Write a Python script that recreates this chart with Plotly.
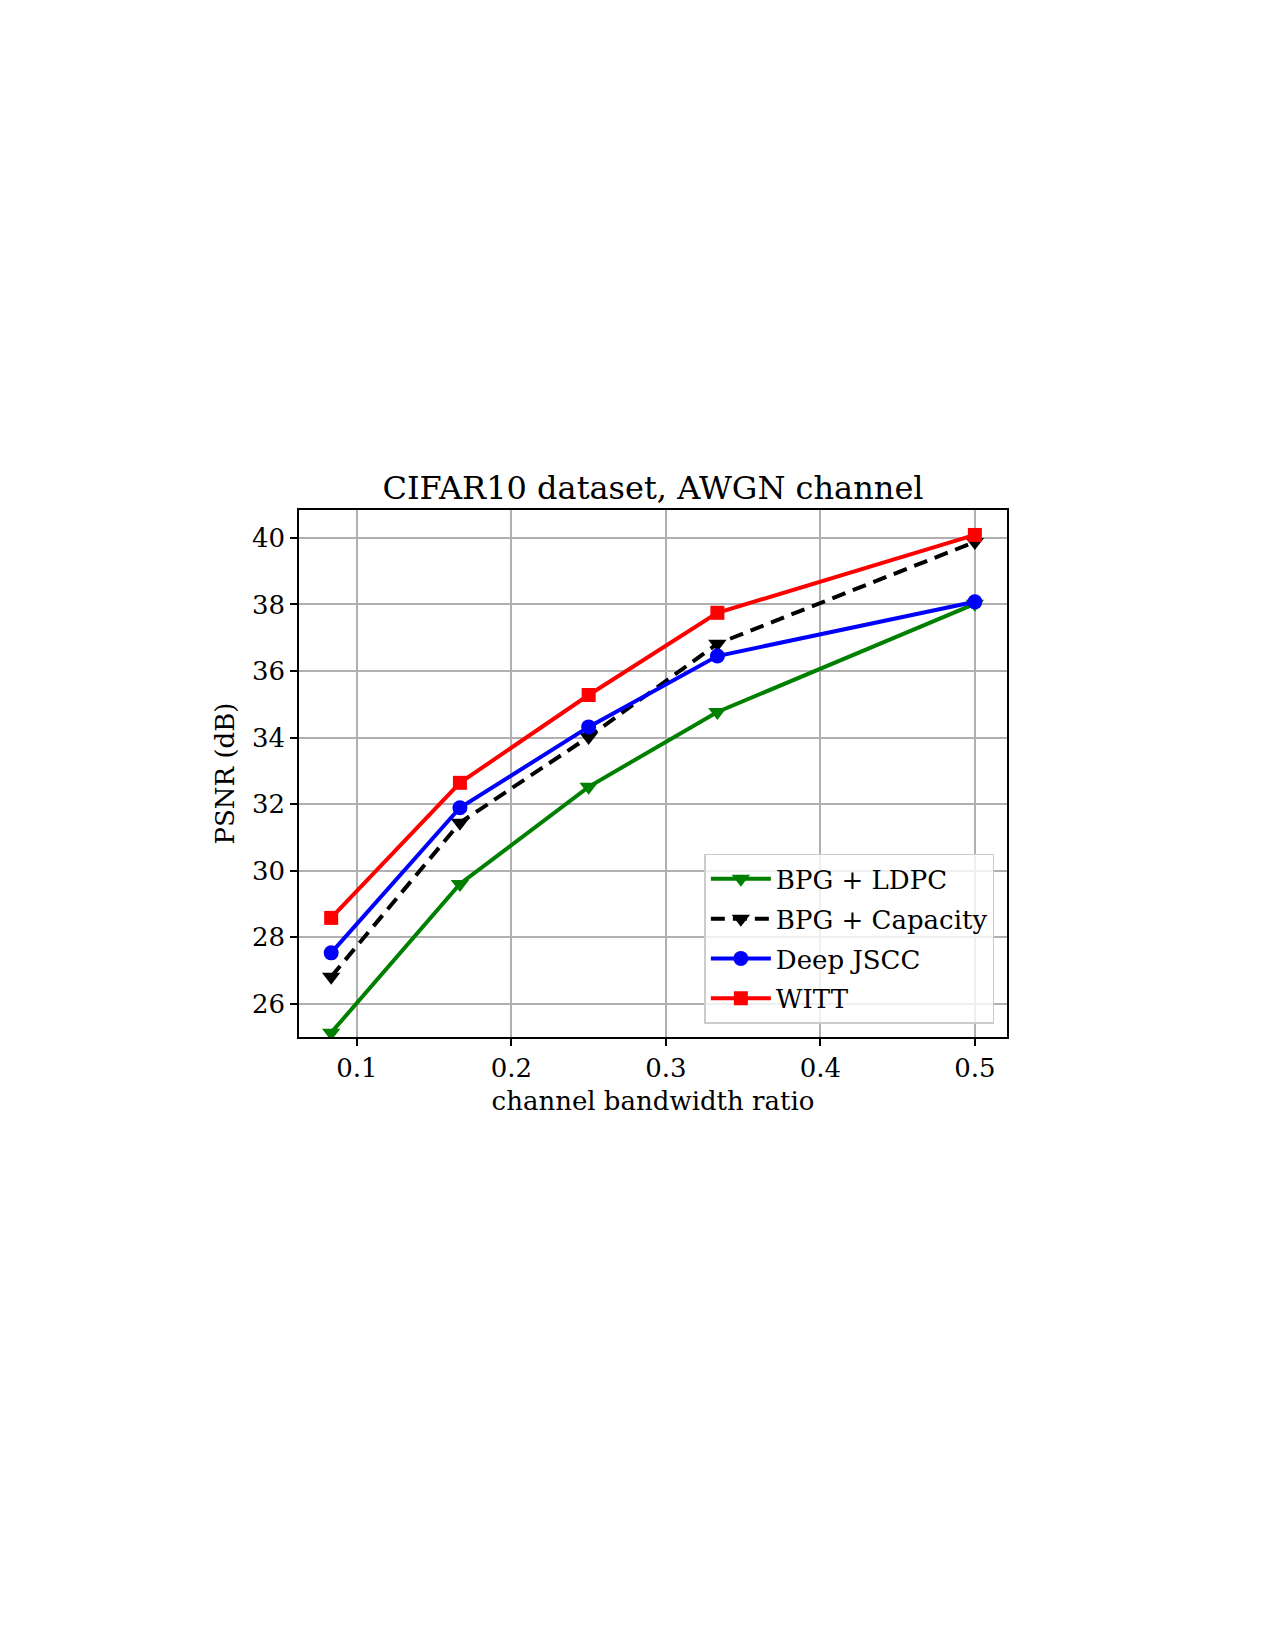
import plotly.graph_objects as go

x_vals = [1/12, 1/6, 1/4, 1/3, 1/2]
bpg_ldpc = [25.13, 29.6, 32.52, 34.77, 38.02]
bpg_capacity = [26.81, 31.44, 34.02, 36.82, 39.88]
deep_jscc = [27.53, 31.89, 34.32, 36.45, 38.08]
witt = [28.58, 32.64, 35.28, 37.75, 40.09]

x_ticks = [0.1, 0.2, 0.3, 0.4, 0.5]
y_ticks = [26, 28, 30, 32, 34, 36, 38, 40]

FONT = "DejaVu Serif"

fig = go.Figure()
series = [
    ("BPG + LDPC", bpg_ldpc, "green", "solid", "triangle-down", 16),
    ("BPG + Capacity", bpg_capacity, "black", "14px,8px", "triangle-down", 16),
    ("Deep JSCC", deep_jscc, "blue", "solid", "circle", 15),
    ("WITT", witt, "red", "solid", "square", 14),
]
for name, ys, color, dash, sym, size in series:
    fig.add_trace(go.Scatter(
        x=x_vals, y=ys, name=name, mode="lines+markers", legendgroup=name,
        line=dict(color=color, width=4, dash=dash),
        marker=dict(symbol=sym, size=size, color=color),
    ))

axis_common = dict(
    showline=True, linecolor="black", linewidth=1.6, mirror=True,
    ticks="outside", ticklen=7, tickwidth=1.6, tickcolor="black",
    showgrid=True, gridcolor="#b0b0b0", gridwidth=1.6,
    zeroline=False, tickfont=dict(family=FONT, size=26, color="black"),
)

fig.update_layout(
    width=1275, height=1650,
    paper_bgcolor="white", plot_bgcolor="white",
    margin=dict(l=291, r=276, t=502, b=621),
    title=dict(text="CIFAR10 dataset, AWGN channel", x=(291 + 999) / 2 / 1275, xanchor="center",
               y=1 - 480/1650, yanchor="middle",
               font=dict(family=FONT, size=32, color="black")),
    xaxis=dict(range=[0.0625, 0.5208], tickvals=x_ticks,
               ticktext=[str(t) for t in x_ticks],
               title=dict(text="channel bandwidth ratio", standoff=10,
                          font=dict(family=FONT, size=26, color="black")),
               **axis_common),
    yaxis=dict(range=[25.0, 40.84], tickvals=y_ticks,
               ticktext=[str(t) for t in y_ticks],
               title=dict(text="PSNR (dB)", standoff=10,
                          font=dict(family=FONT, size=26, color="black")),
               **axis_common),
    legend=dict(x=0.982, y=0.025, xanchor="right", yanchor="bottom",
                bgcolor="rgba(255,255,255,0.8)", bordercolor="#cccccc", borderwidth=1.6,
                font=dict(family=FONT, size=26, color="black"),
                itemwidth=60, tracegroupgap=3),
    showlegend=True,
)

fig.write_html("out.html")
